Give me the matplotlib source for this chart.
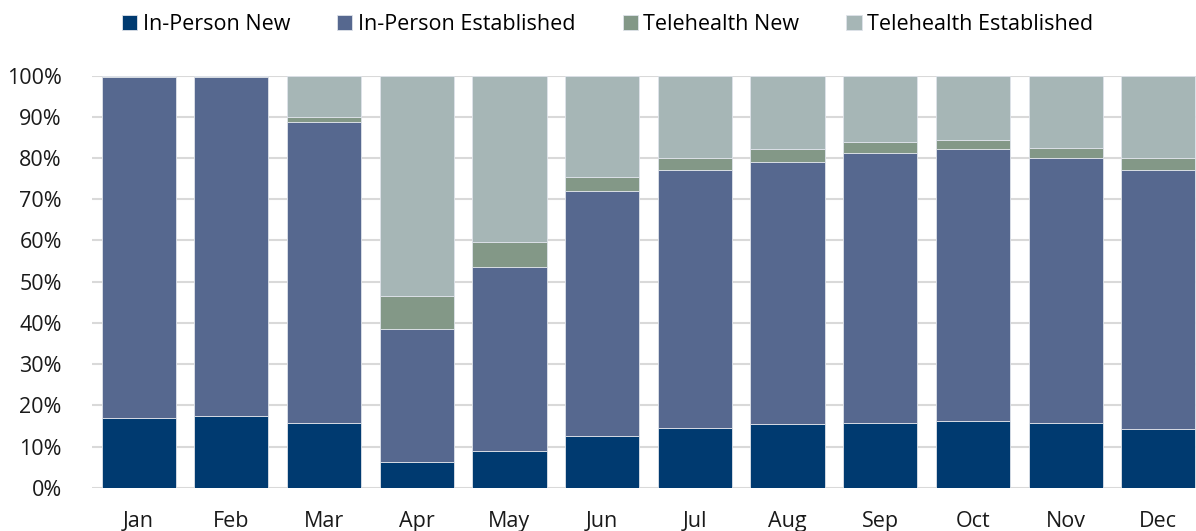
import numpy as np
import matplotlib
matplotlib.use("Agg")
import matplotlib.pyplot as plt
from matplotlib.ticker import PercentFormatter

plt.rcParams['font.family'] = ['Open Sans', 'DejaVu Sans']

months = ["Jan", "Feb", "Mar", "Apr", "May", "Jun",
          "Jul", "Aug", "Sep", "Oct", "Nov", "Dec"]
series = ["In-Person New", "In-Person Established",
          "Telehealth New", "Telehealth Established"]

# shares in %
in_person_new = [17.0, 17.5, 15.6, 6.3, 9.0, 12.6, 14.6, 15.4, 15.6, 16.1, 15.6, 14.3]
in_person_est = [82.7, 82.2, 73.1, 32.3, 44.6, 59.5, 62.5, 63.7, 65.7, 66.0, 64.5, 62.7]
tele_new = [0.2, 0.2, 1.3, 8.0, 6.0, 3.4, 3.0, 3.0, 2.5, 2.4, 2.4, 2.9]
tele_est = [0.1, 0.1, 10.0, 53.4, 40.4, 24.5, 19.9, 17.9, 16.2, 15.5, 17.5, 20.1]

colors = ["#003A70", "#56688F", "#839887", "#A6B6B6"]

fig = plt.figure(figsize=(11.96, 5.31), dpi=100)
ax = fig.add_axes([0.0772, 0.0815, 0.930, 0.776])

x = np.arange(len(months))
bottom = np.zeros(len(months))
for name, vals, c in zip(series, [in_person_new, in_person_est, tele_new, tele_est], colors):
    vals = np.array(vals)
    ax.bar(x, vals, 0.8, bottom=bottom, color=c, label=name,
           edgecolor="#dfe3ea", linewidth=0.6, zorder=3)
    bottom += vals

ax.set_xlim(-0.5, 11.5)
ax.set_ylim(0, 100)
ax.set_yticks(np.arange(0, 101, 10))
ax.yaxis.set_major_formatter(PercentFormatter(decimals=0))
ax.set_xticks(x)
ax.set_xticklabels(months)
ax.grid(axis="y", color="#D9D9D9", linewidth=1.5, zorder=0)
ax.tick_params(length=0, labelsize=15.5, colors="#1a1a1a")
ax.tick_params(axis="x", pad=17)
ax.tick_params(axis="y", pad=22)
for s in ax.spines.values():
    s.set_visible(False)

fig.legend(loc="center", bbox_to_anchor=(0.508, 0.954), ncol=4, frameon=False,
           fontsize=15.5, handlelength=0.7, handleheight=0.7, handletextpad=0.25,
           columnspacing=2.2)

fig.savefig("out.png", dpi=100)
